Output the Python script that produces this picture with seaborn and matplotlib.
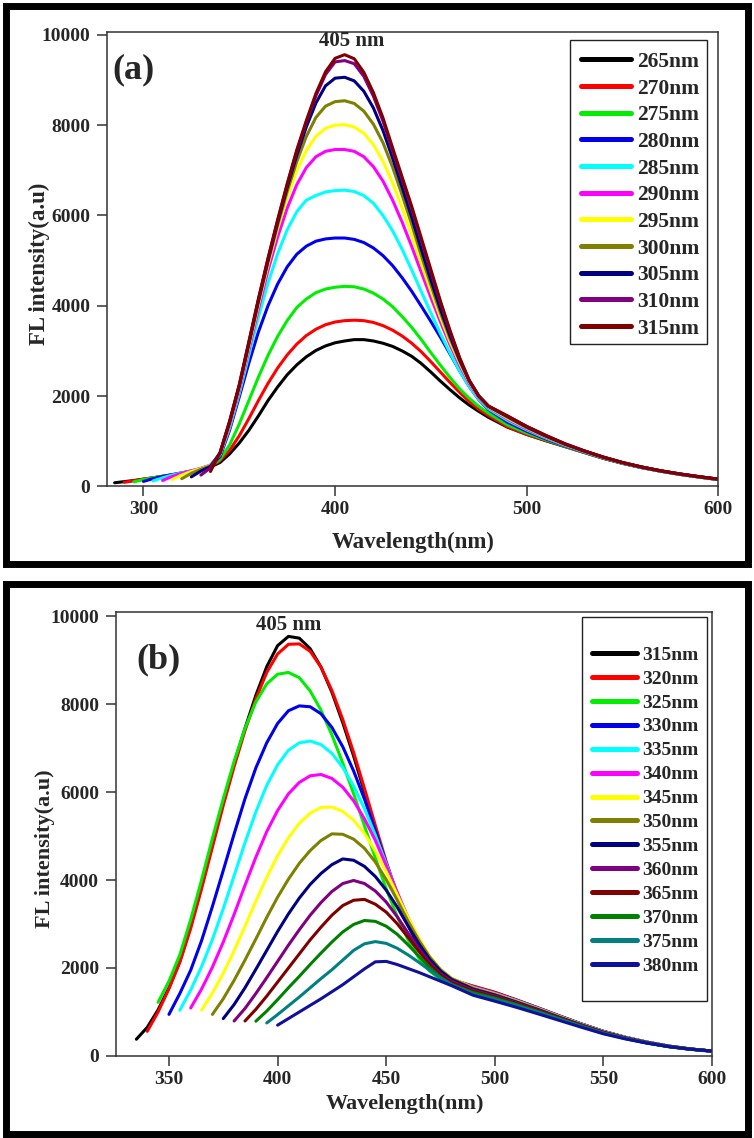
import numpy as np
import pandas as pd
import matplotlib
matplotlib.use("Agg")
import matplotlib.pyplot as plt
import seaborn as sns
from matplotlib.lines import Line2D
from matplotlib.patches import Rectangle

sns.set_style("ticks")
plt.rcParams['font.family'] = ['Liberation Serif', 'DejaVu Serif']
plt.rcParams['font.weight'] = 'bold'
plt.rcParams['axes.labelweight'] = 'bold'

# ---------------- panel (a): excitation 265-315 nm ----------------
wl_a = np.array(list(range(285, 481, 5)) + list(range(490, 601, 10)))
labels_a = ['265nm', '270nm', '275nm', '280nm', '285nm', '290nm',
            '295nm', '300nm', '305nm', '310nm', '315nm']
colors_a = ['#000000', '#ff0000', '#00ee00', '#0000ee', '#00ffff', '#ff00ff',
            '#ffff00', '#808000', '#000080', '#800080', '#800000']
start_a = [285, 290, 295, 300, 305, 310, 315, 320, 325, 330, 335]
fl_a = [
    [80, 105, 130, 160, 190, 220, 250, 285, 325, 370, 430, 530, 720, 960, 1240, 1560, 1900, 2200, 2470, 2690,
     2870, 3010, 3110, 3180, 3220, 3250, 3250, 3220, 3170, 3100, 3000, 2880, 2720, 2530, 2330, 2140, 1960, 1800, 1660, 1530,
     1310, 1150, 1010, 880, 750, 620, 510, 415, 335, 265, 205, 150],
    [90, 125, 160, 190, 225, 255, 290, 330, 380, 440, 570, 800, 1120, 1500, 1900, 2280, 2620, 2910, 3150,
     3340, 3480, 3580, 3640, 3670, 3680, 3670, 3630, 3560, 3460, 3330, 3170, 2980, 2760, 2530, 2300, 2080, 1880, 1710, 1570,
     1320, 1150, 1015, 885, 752, 622, 511, 416, 336, 266, 206, 151],
    [100, 150, 190, 225, 260, 295, 335, 385, 445, 600, 920, 1380, 1900, 2420, 2900, 3320, 3670, 3960,
     4150, 4290, 4370, 4410, 4430, 4420, 4370, 4280, 4150, 3980, 3760, 3520, 3250, 2960, 2680, 2410, 2160, 1950, 1770, 1620,
     1360, 1180, 1030, 890, 755, 625, 512, 417, 337, 267, 207, 152],
    [110, 170, 220, 260, 300, 340, 390, 460, 660, 1250, 1980, 2730, 3420, 4000, 4480, 4860, 5140,
     5320, 5430, 5480, 5500, 5500, 5470, 5400, 5280, 5110, 4890, 4620, 4320, 3990, 3650, 3300, 2930, 2560, 2210, 1920, 1700,
     1420, 1220, 1050, 900, 760, 630, 515, 418, 338, 268, 208, 155],
    [120, 190, 250, 300, 345, 395, 470, 700, 1300, 2050, 2900, 3750, 4500, 5150, 5680, 6080,
     6340, 6440, 6520, 6550, 6560, 6530, 6440, 6270, 6000, 5660, 5250, 4790, 4310, 3840, 3380, 2950, 2560, 2210, 1930, 1720,
     1460, 1250, 1070, 910, 765, 635, 518, 422, 340, 270, 210, 157],
    [130, 220, 290, 345, 400, 470, 710, 1350, 2120, 3020, 3930, 4780, 5520, 6160, 6680,
     7060, 7300, 7420, 7460, 7460, 7420, 7300, 7080, 6760, 6340, 5850, 5310, 4740, 4180, 3640, 3130, 2680, 2280, 1970, 1750,
     1490, 1270, 1085, 920, 770, 638, 520, 424, 341, 271, 211, 158],
    [150, 250, 330, 395, 465, 720, 1380, 2170, 3090, 4020, 4900, 5700, 6400, 6990,
     7440, 7750, 7930, 8000, 8010, 7960, 7820, 7570, 7200, 6720, 6160, 5560, 4930, 4320, 3740, 3200, 2730, 2310, 1990, 1760,
     1510, 1290, 1095, 925, 775, 640, 522, 425, 342, 272, 212, 158],
    [170, 290, 380, 455, 730, 1400, 2200, 3130, 4070, 4960, 5780, 6530, 7190,
     7750, 8170, 8420, 8520, 8540, 8480, 8310, 8020, 7610, 7070, 6450, 5800, 5110, 4460, 3840, 3270, 2770, 2330, 2000, 1770,
     1530, 1300, 1105, 930, 778, 642, 524, 426, 343, 273, 213, 159],
    [210, 340, 440, 740, 1420, 2220, 3160, 4110, 5000, 5840, 6620, 7330,
     7960, 8490, 8870, 9040, 9060, 8980, 8750, 8380, 7880, 7270, 6620, 5960, 5250, 4570, 3920, 3330, 2800, 2340, 2000, 1775,
     1545, 1315, 1115, 935, 782, 645, 526, 428, 344, 274, 214, 160],
    [250, 410, 745, 1440, 2240, 3190, 4140, 5040, 5880, 6680, 7420,
     8070, 8650, 9120, 9400, 9430, 9360, 9080, 8640, 8090, 7430, 6800, 6150, 5450, 4750, 4060, 3420, 2830, 2340, 2000, 1780,
     1555, 1325, 1125, 940, 786, 648, 528, 429, 345, 275, 215, 160],
    [330, 750, 1450, 2250, 3200, 4150, 5050, 5900, 6700, 7450,
     8100, 8700, 9180, 9480, 9560, 9470, 9170, 8720, 8160, 7500, 6850, 6200, 5500, 4800, 4100, 3450, 2850, 2350, 2000, 1780,
     1560, 1330, 1130, 945, 790, 650, 530, 430, 345, 275, 215, 160],
]

# ---------------- panel (b): excitation 315-380 nm ----------------
wl_b = np.array(list(range(335, 481, 5)) + list(range(490, 601, 10)))
labels_b = ['315nm', '320nm', '325nm', '330nm', '335nm', '340nm', '345nm',
            '350nm', '355nm', '360nm', '365nm', '370nm', '375nm', '380nm']
colors_b = ['#000000', '#ff0000', '#00ee00', '#0000ee', '#00ffff', '#ff00ff', '#ffff00',
            '#808000', '#000080', '#800080', '#800000', '#008000', '#008080', '#10109a']
start_b = [335, 340, 345, 350, 355, 360, 365, 370, 375, 380, 385, 390, 395, 400]
fl_b = [
    [380, 650, 1050, 1550, 2150, 2950, 3850, 4800, 5750, 6650,
     7450, 8200, 8850, 9330, 9540, 9500, 9260, 8840, 8270, 7580, 6820, 6000, 5150, 4330, 3600, 2980, 2480, 2120, 1880, 1720,
     1580, 1440, 1270, 1090, 905, 725, 560, 425, 315, 225, 160, 110],
    [560, 1000, 1530, 2130, 2900, 3800, 4750, 5700, 6580,
     7400, 8120, 8720, 9140, 9360, 9370, 9200, 8840, 8310, 7650, 6900, 6080, 5240, 4420, 3680, 3050, 2530, 2160, 1910, 1740,
     1590, 1450, 1275, 1092, 906, 726, 561, 426, 316, 226, 160, 110],
    [1220, 1700, 2300, 3100, 4000, 4950, 5850, 6700,
     7450, 8050, 8460, 8680, 8720, 8600, 8300, 7860, 7300, 6660, 5960, 5230, 4500, 3800, 3180, 2650, 2230, 1930, 1740, 1620,
     1500, 1380, 1220, 1045, 865, 690, 528, 400, 295, 210, 150, 100],
    [945, 1420, 1950, 2620, 3400, 4220, 5050,
     5850, 6550, 7120, 7560, 7850, 7960, 7940, 7780, 7470, 7030, 6480, 5840, 5120, 4380, 3690, 3070, 2560, 2170, 1900, 1730,
     1570, 1430, 1262, 1085, 900, 722, 556, 423, 313, 224, 159, 110],
    [1040, 1500, 2030, 2650, 3350, 4100,
     4850, 5550, 6150, 6620, 6950, 7120, 7160, 7080, 6880, 6560, 6140, 5620, 5020, 4370, 3720, 3120, 2610, 2210, 1930, 1750,
     1565, 1425, 1258, 1080, 896, 719, 554, 422, 312, 223, 158, 110],
    [1090, 1520, 2020, 2590, 3220,
     3880, 4520, 5100, 5580, 5960, 6220, 6370, 6400, 6310, 6110, 5800, 5390, 4900, 4330, 3730, 3150, 2650, 2240, 1950, 1760,
     1560, 1420, 1252, 1076, 892, 716, 551, 420, 311, 222, 158, 110],
    [1040, 1430, 1880, 2390,
     2950, 3520, 4060, 4550, 4960, 5290, 5520, 5650, 5660, 5560, 5360, 5060, 4660, 4190, 3670, 3150, 2680, 2270, 1970, 1770,
     1550, 1410, 1245, 1070, 887, 712, 548, 418, 309, 221, 157, 110],
    [945, 1300, 1720,
     2180, 2660, 3150, 3610, 4020, 4380, 4670, 4900, 5050, 5040, 4930, 4720, 4410, 4010, 3550, 3070, 2630, 2250, 1960, 1760,
     1540, 1400, 1236, 1062, 880, 707, 544, 415, 307, 220, 157, 110],
    [850, 1170,
     1550, 1970, 2400, 2830, 3230, 3590, 3900, 4150, 4350, 4480, 4450, 4310, 4080, 3770, 3390, 2960, 2550, 2200, 1930, 1740,
     1520, 1385, 1222, 1052, 872, 701, 540, 412, 305, 218, 156, 110],
    [795,
     1080, 1420, 1780, 2150, 2520, 2870, 3200, 3490, 3740, 3920, 3990, 3920, 3750, 3500, 3170, 2800, 2440, 2120, 1870, 1700,
     1495, 1365, 1207, 1040, 864, 695, 535, 409, 303, 217, 155, 110],
    [795, 1060, 1360, 1680, 2000, 2320, 2640, 2930, 3200, 3420, 3540, 3560, 3450, 3270, 3010, 2700, 2380, 2080, 1840, 1670,
     1470, 1340, 1188, 1025, 855, 688, 530, 405, 300, 215, 155, 110],
    [790, 1020, 1280, 1550, 1810, 2080, 2340, 2590, 2820, 2990, 3080, 3060, 2950, 2770, 2530, 2270, 2010, 1790, 1630,
     1440, 1315, 1168, 1008, 842, 678, 522, 400, 297, 214, 154, 112],
    [750, 940, 1140, 1340, 1550, 1760, 1960, 2180, 2400, 2550, 2600, 2560, 2450, 2300, 2130, 1950, 1770, 1620,
     1405, 1285, 1143, 988, 828, 667, 515, 396, 295, 213, 154, 112],
    [700, 850, 1000, 1150, 1300, 1460, 1620, 1800, 1980, 2140, 2150, 2080, 1990, 1900, 1800, 1700, 1600,
     1380, 1245, 1105, 955, 803, 650, 503, 388, 291, 211, 153, 112],
]


def long_table(grid, starts, rows, labels):
    parts = []
    for s, vals, lab in zip(starts, rows, labels):
        x = grid[grid >= s][:len(vals)]
        parts.append(pd.DataFrame({'wavelength': x, 'intensity': vals, 'excitation': lab}))
    return pd.concat(parts, ignore_index=True)


df_a = long_table(wl_a, start_a, fl_a, labels_a)
df_b = long_table(wl_b, start_b, fl_b, labels_b)

fig = plt.figure(figsize=(7.54, 11.38), dpi=100)
ax_a = fig.add_axes([0.1419, 0.5726, 0.8109, 0.3997])
ax_b = fig.add_axes([0.1535, 0.0721, 0.7909, 0.3897])

spine_col = '#333333'


def style_axes(ax, xticks, xlim, ylim):
    ax.set_xlim(*xlim)
    ax.set_ylim(*ylim)
    ax.set_xticks(xticks)
    ax.set_yticks(range(0, 10001, 2000))
    for sp in ax.spines.values():
        sp.set_visible(True)
        sp.set_color(spine_col)
        sp.set_linewidth(1.1)
    ax.tick_params(axis='both', direction='out', length=7, width=1.1, color=spine_col,
                   labelsize=14, top=False, right=False)
    ax.tick_params(axis='x', pad=3.5)
    ax.tick_params(axis='y', pad=5)
    for lab in ax.get_xticklabels() + ax.get_yticklabels():
        lab.set_fontweight('bold')


# panel (a)
sns.lineplot(data=df_a, x='wavelength', y='intensity', hue='excitation',
             hue_order=labels_a, palette=dict(zip(labels_a, colors_a)),
             estimator=None, lw=2.2, legend=False, ax=ax_a)
style_axes(ax_a, [300, 400, 500, 600], (281, 600), (0, 10073))
ax_a.set_xlabel('Wavelength(nm)', fontsize=16.5, fontweight='bold', va='center')
ax_a.set_ylabel('FL intensity(a.u)', fontsize=16.5, fontweight='bold', va='center')
ax_a.xaxis.set_label_coords(0.5, -0.124)
ax_a.yaxis.set_label_coords(-0.110, 0.489)
ax_a.text(0.008, 0.915, '(a)', transform=ax_a.transAxes, fontsize=26,
          fontweight='bold', ha='left', va='center')
ax_a.text(0.400, 0.979, '405 nm', transform=ax_a.transAxes, fontsize=15,
          fontweight='bold', ha='center', va='center')
handles_a = [Line2D([], [], color=c, lw=3.6) for c in colors_a]
ax_a.legend(handles_a, labels_a, loc='upper left', bbox_to_anchor=(0.775, 0.9555),
            frameon=False, prop={'weight': 'bold', 'size': 15.5},
            handlelength=2.35, handletextpad=0.25, labelspacing=0.307,
            borderpad=0, borderaxespad=0)
ax_a.add_patch(Rectangle((0.757, 0.313), 0.224, 0.668, transform=ax_a.transAxes,
                         fill=False, ec='#222222', lw=1.0, zorder=5))

# panel (b)
sns.lineplot(data=df_b, x='wavelength', y='intensity', hue='excitation',
             hue_order=labels_b, palette=dict(zip(labels_b, colors_b)),
             estimator=None, lw=2.2, legend=False, ax=ax_b)
style_axes(ax_b, [350, 400, 450, 500, 550, 600], (325.5, 600), (0, 10084))
ax_b.set_xlabel('Wavelength(nm)', fontsize=16, fontweight='bold', va='center')
ax_b.set_ylabel('FL intensity(a.u)', fontsize=16, fontweight='bold', va='center')
ax_b.xaxis.set_label_coords(0.485, -0.108)
ax_b.yaxis.set_label_coords(-0.119, 0.467)
ax_b.text(0.035, 0.893, '(b)', transform=ax_b.transAxes, fontsize=26,
          fontweight='bold', ha='left', va='center')
ax_b.text(0.2906, 0.9725, '405 nm', transform=ax_b.transAxes, fontsize=15,
          fontweight='bold', ha='center', va='center')
handles_b = [Line2D([], [], color=c, lw=3.6) for c in colors_b]
ax_b.legend(handles_b, labels_b, loc='upper left', bbox_to_anchor=(0.799, 0.9244),
            frameon=False, prop={'weight': 'bold', 'size': 14},
            handlelength=2.3, handletextpad=0.26, labelspacing=0.326,
            borderpad=0, borderaxespad=0)
ax_b.add_patch(Rectangle((0.782, 0.125), 0.2096, 0.865, transform=ax_b.transAxes,
                         fill=False, ec='#222222', lw=1.0, zorder=5))

# thick outer frames around each panel
for y0, h in [(0.5048, 0.4903), (0.0031, 0.4837)]:
    fig.patches.append(Rectangle((0.0073, y0), 0.9847, h, transform=fig.transFigure,
                                 fill=False, ec='black', lw=5.0))

fig.savefig('out.png', dpi=100)
